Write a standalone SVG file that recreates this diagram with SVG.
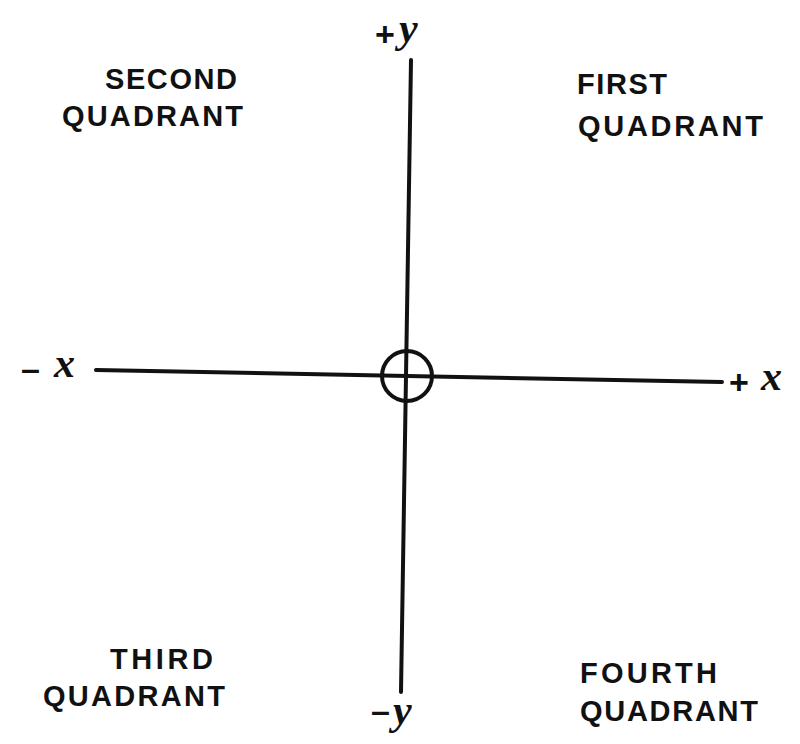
<svg xmlns="http://www.w3.org/2000/svg" width="800" height="744" viewBox="0 0 800 744">
<style>
.lbl{font-family:"Liberation Sans",Arial,sans-serif;font-weight:bold;font-size:29px;fill:#111}
.ax{font-family:"Liberation Serif","Times New Roman",serif;font-style:italic;font-weight:bold;font-size:42px;fill:#111}
.sg{font-family:"Liberation Sans",Arial,sans-serif;font-weight:bold;font-size:34px;fill:#111}
.line{stroke:#111;stroke-width:4;fill:none;stroke-linecap:round}
</style>
<rect width="800" height="744" fill="#fff"/>
<g id="connectors">
<line class="line" x1="411" y1="60" x2="401" y2="692"/>
<line class="line" x1="96" y1="370" x2="722" y2="382"/>
</g>
<g id="origin"><circle class="line" cx="407" cy="376" r="25"/></g>
<g id="q2"><text class="lbl" x="105" y="89" textLength="132" lengthAdjust="spacing">SECOND</text><text class="lbl" x="62" y="126" textLength="181" lengthAdjust="spacing">QUADRANT</text></g>
<g id="q1"><text class="lbl" x="577" y="94" textLength="90" lengthAdjust="spacing">FIRST</text><text class="lbl" x="578" y="136" textLength="185" lengthAdjust="spacing">QUADRANT</text></g>
<g id="q3"><text class="lbl" x="110" y="669" textLength="103" lengthAdjust="spacing">THIRD</text><text class="lbl" x="43" y="706" textLength="182" lengthAdjust="spacing">QUADRANT</text></g>
<g id="q4"><text class="lbl" x="580" y="683" textLength="137" lengthAdjust="spacing">FOURTH</text><text class="lbl" x="580" y="721" textLength="178" lengthAdjust="spacing">QUADRANT</text></g>
<g id="plus-y"><text class="sg" x="375" y="46">+</text><text class="ax" x="399" y="42">y</text></g>
<g id="minus-y"><text class="sg" x="371" y="722">–</text><text class="ax" x="393" y="724">y</text></g>
<g id="minus-x"><text class="sg" x="21" y="380">–</text><text class="ax" x="54" y="377">x</text></g>
<g id="plus-x"><text class="sg" x="729" y="394">+</text><text class="ax" x="761" y="390">x</text></g>
</svg>
